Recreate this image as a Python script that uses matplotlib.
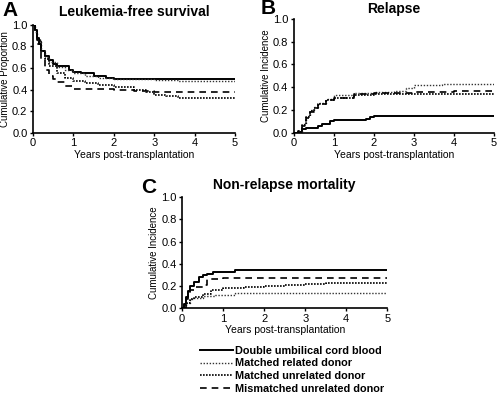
import matplotlib
matplotlib.use('Agg')
import matplotlib.pyplot as plt

plt.rcParams['font.family'] = ['Liberation Sans', 'DejaVu Sans']

LABELS = ['Double umbilical cord blood', 'Matched related donor',
          'Matched unrelated donor', 'Mismatched unrelated donor']

# Leukemia-free survival (step curves: times, values)
lfs_ducb_t = [0, 0.05, 0.1, 0.15, 0.2, 0.3, 0.4, 0.5, 0.6, 0.7, 0.9, 1.0, 1.2, 1.5, 1.8, 2.0, 5.0]
lfs_ducb_v = [1.0, 0.95, 0.88, 0.82, 0.76, 0.71, 0.67, 0.64, 0.62, 0.62, 0.58, 0.56, 0.55, 0.53, 0.51, 0.50, 0.50]
lfs_mrd_t = [0, 0.05, 0.1, 0.2, 0.3, 0.4, 0.6, 0.8, 1.0, 1.3, 1.6, 2.0, 3.0, 3.6, 5.0]
lfs_mrd_v = [1.0, 0.93, 0.86, 0.76, 0.70, 0.66, 0.61, 0.58, 0.55, 0.53, 0.51, 0.50, 0.49, 0.48, 0.48]
lfs_mud_t = [0, 0.05, 0.1, 0.2, 0.3, 0.4, 0.6, 0.8, 1.0, 1.3, 1.6, 2.0, 2.5, 2.8, 3.0, 3.3, 3.6, 5.0]
lfs_mud_v = [1.0, 0.94, 0.86, 0.76, 0.68, 0.62, 0.55, 0.51, 0.48, 0.46, 0.44, 0.42, 0.40, 0.38, 0.35, 0.34, 0.32, 0.32]
lfs_mmud_t = [0, 0.05, 0.1, 0.2, 0.3, 0.4, 0.5, 0.6, 0.8, 1.0, 2.0, 2.5, 3.0, 5.0]
lfs_mmud_v = [1.0, 0.92, 0.82, 0.68, 0.58, 0.53, 0.50, 0.47, 0.43, 0.41, 0.40, 0.39, 0.38, 0.38]

# Relapse
rel_ducb_t = [0, 0.1, 0.2, 0.3, 0.5, 0.6, 0.7, 0.9, 1.0, 1.5, 1.8, 1.9, 2.0, 5.0]
rel_ducb_v = [0.0, 0.01, 0.03, 0.04, 0.04, 0.06, 0.08, 0.10, 0.11, 0.11, 0.12, 0.14, 0.15, 0.15]
rel_mrd_t = [0, 0.1, 0.2, 0.3, 0.4, 0.5, 0.6, 0.8, 1.0, 1.5, 2.0, 2.5, 2.8, 3.0, 3.7, 5.0]
rel_mrd_v = [0.0, 0.02, 0.08, 0.15, 0.20, 0.23, 0.26, 0.30, 0.33, 0.35, 0.36, 0.37, 0.39, 0.42, 0.43, 0.43]
rel_mud_t = [0, 0.1, 0.2, 0.3, 0.4, 0.5, 0.6, 0.8, 1.0, 1.5, 2.0, 5.0]
rel_mud_v = [0.0, 0.02, 0.07, 0.14, 0.19, 0.22, 0.25, 0.29, 0.31, 0.33, 0.34, 0.34]
rel_mmud_t = [0, 0.1, 0.2, 0.3, 0.4, 0.5, 0.6, 0.8, 1.0, 1.5, 2.0, 3.0, 4.0, 5.0]
rel_mmud_v = [0.0, 0.02, 0.06, 0.13, 0.18, 0.22, 0.25, 0.29, 0.31, 0.34, 0.35, 0.36, 0.37, 0.37]

# Non-relapse mortality
nrm_ducb_t = [0, 0.05, 0.1, 0.15, 0.2, 0.3, 0.4, 0.5, 0.6, 0.75, 1.3, 5.0]
nrm_ducb_v = [0.0, 0.04, 0.10, 0.15, 0.20, 0.24, 0.28, 0.30, 0.31, 0.33, 0.34, 0.34]
nrm_mrd_t = [0, 0.1, 0.2, 0.3, 0.5, 0.8, 1.0, 1.3, 5.0]
nrm_mrd_v = [0.0, 0.05, 0.08, 0.09, 0.11, 0.12, 0.12, 0.14, 0.14]
nrm_mud_t = [0, 0.1, 0.2, 0.3, 0.5, 0.7, 1.0, 1.5, 2.0, 2.5, 3.0, 3.5, 5.0]
nrm_mud_v = [0.0, 0.05, 0.08, 0.10, 0.13, 0.16, 0.18, 0.19, 0.20, 0.21, 0.22, 0.23, 0.23]
nrm_mmud_t = [0, 0.1, 0.15, 0.2, 0.3, 0.4, 0.5, 0.6, 1.0, 5.0]
nrm_mmud_v = [0.0, 0.08, 0.12, 0.16, 0.19, 0.19, 0.21, 0.26, 0.27, 0.27]

STYLES = [dict(ls='-', lw=1.4, color='black'),
          dict(ls=(0, (1, 1.2)), lw=1.0, color='#333333'),
          dict(ls=(0, (1, 0.8)), lw=1.2, color='black'),
          dict(ls=(0, (4, 3)), lw=1.2, color='black')]


def style_axes(ax, ylabel):
    ax.set_xlim(0, 5)
    ax.set_ylim(0, 1.0)
    ax.set_xticks(range(6))
    ax.set_yticks([0, 0.2, 0.4, 0.6, 0.8, 1.0])
    ax.set_yticklabels(['0.0', '0.2', '0.4', '0.6', '0.8', '1.0'])
    for s in ['top', 'right']:
        ax.spines[s].set_visible(False)
    ax.spines['left'].set_linewidth(1.2)
    ax.spines['bottom'].set_linewidth(1.2)
    ax.tick_params(labelsize=8, length=2.5, width=1, pad=1.5)
    ax.set_xlabel('Years post-transplantation', fontsize=7.5, labelpad=1)
    ax.set_ylabel(ylabel, fontsize=7, labelpad=1.5)


def draw(ax, curves):
    lines = []
    for (t, v), st in zip(curves, STYLES):
        ln, = ax.step(t, v, where='post', **st)
        lines.append(ln)
    return lines


fig = plt.figure(figsize=(4.99, 3.93), dpi=100)

axA = fig.add_axes([0.066, 0.662, 0.405, 0.275])
draw(axA, [(lfs_ducb_t, lfs_ducb_v), (lfs_mrd_t, lfs_mrd_v),
           (lfs_mud_t, lfs_mud_v), (lfs_mmud_t, lfs_mmud_v)])
style_axes(axA, 'Cumulative Proportion')
axA.set_title('Leukemia-free survival', fontsize=10, fontweight='bold', pad=6)

axB = fig.add_axes([0.589, 0.662, 0.401, 0.290])
draw(axB, [(rel_ducb_t, rel_ducb_v), (rel_mrd_t, rel_mrd_v),
           (rel_mud_t, rel_mud_v), (rel_mmud_t, rel_mmud_v)])
style_axes(axB, 'Cumulative Incidence')
axB.set_title('Relapse', fontsize=10, fontweight='bold', pad=4)

axC = fig.add_axes([0.365, 0.216, 0.411, 0.282])
lines = draw(axC, [(nrm_ducb_t, nrm_ducb_v), (nrm_mrd_t, nrm_mrd_v),
                   (nrm_mud_t, nrm_mud_v), (nrm_mmud_t, nrm_mmud_v)])
style_axes(axC, 'Cumulative Incidence')
axC.set_title('Non-relapse mortality', fontsize=10, fontweight='bold', pad=6)

fig.text(0.004, 0.998, 'A', fontsize=15, fontweight='bold', va='top')
fig.text(0.522, 1.003, 'B', fontsize=15, fontweight='bold', va='top')
fig.text(0.283, 0.548, 'C', fontsize=15, fontweight='bold', va='top')

fig.legend(lines, LABELS, loc='upper left', bbox_to_anchor=(0.39, 0.134),
           frameon=False, prop=dict(size=7.8, weight='bold'),
           handlelength=3.0, handletextpad=0.2, labelspacing=0.25, borderpad=0)

fig.savefig('out.png', dpi=100)
